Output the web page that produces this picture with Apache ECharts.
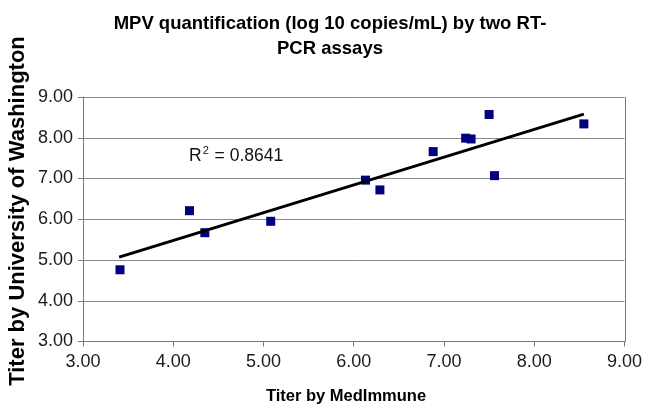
<!DOCTYPE html>
<html><head><meta charset="utf-8">
<script src="https://cdn.jsdelivr.net/npm/echarts@6/dist/echarts.min.js"></script>
<style>html,body{margin:0;padding:0;background:#fff}#c{width:645px;height:408px}</style>
</head><body><div id="c"></div>
<script>
var medImmune = [3.41, 4.18, 4.35, 5.08, 6.13, 6.29, 6.88, 7.24, 7.30, 7.50, 7.56, 8.55];
var uWashington = [4.76, 6.21, 5.67, 5.95, 6.96, 6.72, 7.66, 7.99, 7.97, 8.57, 7.07, 8.34];
var trendX = [3.40, 8.55];
var trendY = [5.07, 8.58];
var rSquaredValue = '0.8641';
var titleText = 'MPV quantification (log 10 copies/mL) by two RT-\nPCR assays';
var xName = 'Titer by MedImmune';
var yName = 'Titer by University of Washington';

var font = 'Liberation Sans, Arial, sans-serif';
var chart = echarts.init(document.getElementById('c'));
var pts = medImmune.map(function(x, i){ return [x, uWashington[i]]; });
var trend = trendX.map(function(x, i){ return [x, trendY[i]]; });
chart.setOption({
  animation: false,
  title: {
    text: titleText, left: 325, top: 6, textAlign: 'center',
    textStyle: {fontFamily: font, fontSize: 18.5, fontWeight: 'bold', color: '#000', lineHeight: 25}
  },
  grid: {left: 83, right: 19, top: 97, bottom: 66.5},
  xAxis: {
    type: 'value', min: 3, max: 9, interval: 1,
    axisLine: {show: true, lineStyle: {color: '#7a7a7a', width: 1}},
    axisTick: {show: true, inside: false, length: 5, lineStyle: {color: '#7a7a7a'}},
    axisLabel: {fontFamily: font, fontSize: 18, color: '#1a1a1a', margin: 12,
      formatter: function(v){ return v.toFixed(2); }},
    splitLine: {show: false}
  },
  yAxis: {
    type: 'value', min: 3, max: 9, interval: 1,
    axisLine: {show: true, lineStyle: {color: '#7a7a7a', width: 1}},
    axisTick: {show: true, inside: false, length: 5, lineStyle: {color: '#7a7a7a'}},
    axisLabel: {fontFamily: font, fontSize: 18, color: '#1a1a1a', margin: 10,
      formatter: function(v){ return v.toFixed(2); }},
    splitLine: {show: true, lineStyle: {color: '#8a8a8a', width: 1}}
  },
  graphic: [
    {type: 'rect', shape: {x: 625.5, y: 97, width: 0, height: 244.5}, style: {stroke: '#7a7a7a', lineWidth: 1, fill: null}},
    {type: 'text', x: 346, y: 396, style: {text: xName, font: 'bold 16.5px ' + font, fill: '#000', textAlign: 'center', textVerticalAlign: 'middle'}},
    {type: 'text', x: 18, y: 211, rotation: Math.PI / 2, style: {text: yName, font: 'bold 22px ' + font, fill: '#000', textAlign: 'center', textVerticalAlign: 'middle'}},
    {type: 'text', left: 189, top: 145, style: {
      text: '{a|R}{s|2}{a| = ' + rSquaredValue + '}',
      rich: {
        a: {fontFamily: font, fontSize: 17.5, fill: '#111', verticalAlign: 'bottom', lineHeight: 20},
        s: {fontFamily: font, fontSize: 11, fill: '#111', verticalAlign: 'top', lineHeight: 20, padding: [0, 1, 8, 1]}
      }
    }}
  ],
  series: [
    {type: 'scatter', data: pts, symbol: 'rect', symbolSize: 9, itemStyle: {color: '#000080', opacity: 1}, z: 3},
    {type: 'line', data: trend, showSymbol: false, symbol: 'none', lineStyle: {color: '#000', width: 3}, z: 4}
  ]
});
</script></body></html>
